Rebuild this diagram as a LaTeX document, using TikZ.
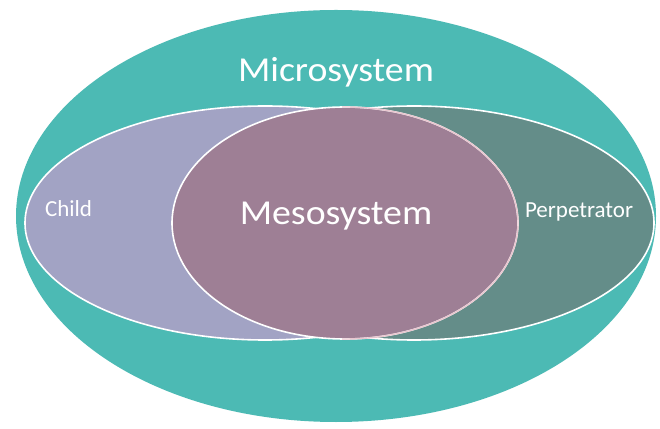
\documentclass[tikz,border=0pt]{standalone}
\usepackage{fontspec}
\setmainfont{Carlito}
\usetikzlibrary{shapes.geometric}
\definecolor{outerteal}{HTML}{4CBAB4}
\definecolor{childcol}{HTML}{A2A3C4}
\definecolor{perpcol}{HTML}{648D89}
\definecolor{mesocol}{HTML}{9E7F95}
\definecolor{pinkline}{HTML}{E9C6CF}
\tikzset{
  set/.style={ellipse, inner sep=0pt, outer sep=0pt, draw=white, line width=1.6pt},
  lbl/.style={text=white, inner sep=0pt, anchor=base},
  biglbl/.style={lbl, font=\fontsize{35}{40}\selectfont},
  smalllbl/.style={lbl, font=\fontsize{23}{27}\selectfont},
}
\begin{document}
\begin{tikzpicture}[x=1pt,y=1pt]
\useasboundingbox (0,0) rectangle (660,428);
\fill[white] (0,0) rectangle (660,428);
\node[ellipse, inner sep=0pt, fill=outerteal, minimum width=640pt, minimum height=412pt] (outer) at (336,212) {};
\node[set, fill=childcol, minimum width=480pt, minimum height=234pt] (child) at (265,205) {};
\node[set, fill=perpcol, minimum width=480pt, minimum height=234pt] (perp) at (414,205) {};
\node[set, fill=mesocol, minimum width=346pt, minimum height=232pt] (meso) at (345,205) {};
\begin{scope}
  \clip (342,0) rectangle (660,428);
  \draw[pinkline, line width=1.4pt] (meso.center) ellipse [x radius=173pt, y radius=116pt];
\end{scope}
\node[biglbl] (micro) at (336,346) {\scalebox{1.08}[1]{Microsystem}};
\node[biglbl] (mesot) at (336,203) {\scalebox{1.08}[1]{Mesosystem}};
\node[smalllbl] (childt) at (68.5,211) {Child};
\node[smalllbl] (perpt) at (579,210) {Perpetrator};
\end{tikzpicture}
\end{document}
